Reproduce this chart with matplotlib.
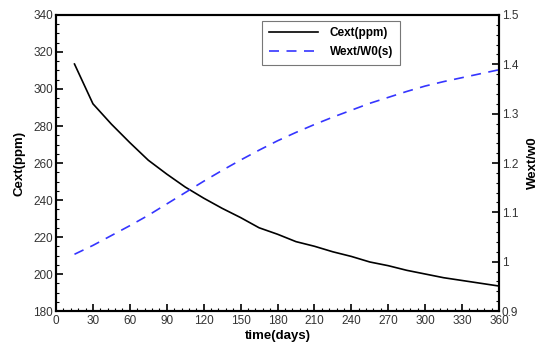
import matplotlib
matplotlib.use("Agg")
import matplotlib.pyplot as plt
from matplotlib.ticker import MultipleLocator, FuncFormatter

plt.rcParams['font.family'] = ['Liberation Sans', 'DejaVu Sans']

days = [15, 30, 45, 60, 75, 90, 105, 120, 135, 150, 165, 180, 195, 210,
        225, 240, 255, 270, 285, 300, 315, 330, 345, 360]
cext = [313.5, 292, 281, 271, 261.5, 254, 247, 241, 235.5, 230.5, 225, 221.5,
        217.5, 215, 212, 209.5, 206.5, 204.5, 202, 200, 198, 196.5, 195, 193.5]
wext = [1.015, 1.033, 1.053, 1.073, 1.094, 1.117, 1.140, 1.163, 1.185, 1.206,
        1.226, 1.245, 1.262, 1.278, 1.293, 1.307, 1.321, 1.333, 1.345, 1.356,
        1.365, 1.373, 1.381, 1.389]

fig = plt.figure(figsize=(5.45, 3.47), dpi=100)
ax = fig.add_axes([0.1028, 0.1037, 0.8128, 0.8531])
ax2 = ax.twinx()

l1, = ax.plot(days, cext, color='black', lw=1.2, label='Cext(ppm)')
l2, = ax2.plot(days, wext, color='#3535ff', lw=1.2, dashes=(6, 4.5), label='Wext/W0(s)')

ax.set_xlim(0, 360)
ax.set_ylim(180, 340)
ax2.set_ylim(0.9, 1.5)
ax.xaxis.set_major_locator(MultipleLocator(30))
ax.xaxis.set_minor_locator(MultipleLocator(6))
ax.yaxis.set_major_locator(MultipleLocator(20))
ax.yaxis.set_minor_locator(MultipleLocator(5))
ax2.yaxis.set_major_locator(MultipleLocator(0.1))
ax2.yaxis.set_minor_locator(MultipleLocator(0.02))
ax2.yaxis.set_major_formatter(FuncFormatter(lambda v, p: '1' if abs(v - 1) < 1e-9 else '%.1f' % v))

for a in (ax, ax2):
    for s in a.spines.values():
        s.set_linewidth(1.5)
    a.tick_params(which='both', direction='in', colors='black', labelcolor='#333333', labelsize=8.5)
    a.tick_params(which='major', length=5, width=1.2)
    a.tick_params(which='minor', length=2.5, width=0.8)
ax.tick_params(axis='x', pad=3)
ax.tick_params(axis='y', pad=2)
ax2.tick_params(axis='y', pad=2)

ax.set_xlabel('time(days)', fontsize=9.5, fontweight='bold', labelpad=2)
ax.set_ylabel('Cext(ppm)', fontsize=9.5, fontweight='bold', labelpad=6)
ax2.set_ylabel('Wext/w0', fontsize=9.5, fontweight='bold', labelpad=6)

leg = ax.legend(handles=[l1, l2], loc='upper left', bbox_to_anchor=(0.465, 0.98),
                borderaxespad=0, fontsize=8.5, frameon=True, fancybox=False,
                handlelength=4.2, borderpad=0.55, labelspacing=0.6, handletextpad=1.0)
leg.get_frame().set_edgecolor('#555555')
leg.get_frame().set_linewidth(0.8)
for t in leg.get_texts():
    t.set_fontweight('bold')

fig.savefig('out.png', dpi=100)
